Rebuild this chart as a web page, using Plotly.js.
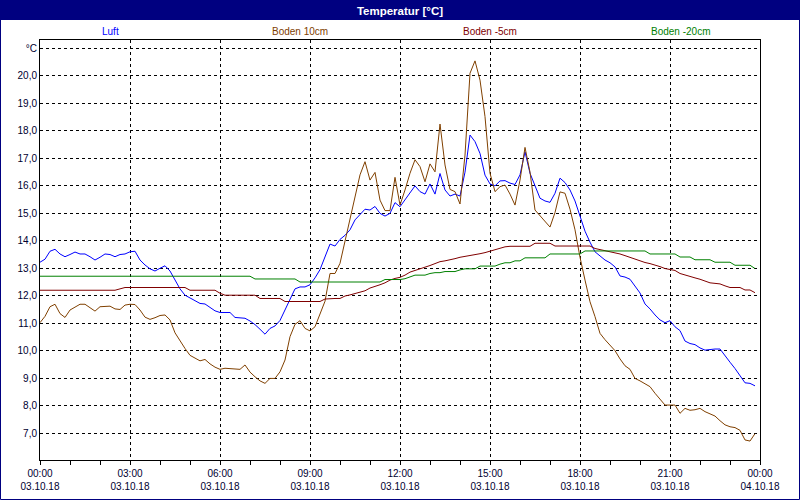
<!DOCTYPE html>
<html>
<head>
<meta charset="utf-8">
<script src="https://cdn.plot.ly/plotly-3.0.1.min.js"></script>
<style>
  html, body { margin: 0; padding: 0; background: #fff; }
  #chart { width: 800px; height: 500px; }
</style>
</head>
<body>
<div id="chart"></div>
<script>
// Messwerte 03.10.18, alle 10 Minuten (00:00 bis 23:50)
const seriesNames = ['Luft', 'Boden 10cm', 'Boden -5cm', 'Boden -20cm'];
const seriesColors = ['#0000ff', '#804000', '#800000', '#008000'];

const luft = [
  13.22,13.33,13.62,13.69,13.52,13.42,13.50,13.59,13.52,13.52,13.42,13.30,
  13.40,13.52,13.50,13.42,13.50,13.52,13.60,13.62,13.30,13.12,12.98,12.90,
  13.00,13.09,12.90,12.55,12.25,12.02,11.92,11.82,11.72,11.70,11.57,11.45,
  11.39,11.39,11.39,11.21,11.20,11.18,11.08,10.95,10.78,10.60,10.81,10.90,
  11.10,11.50,11.90,12.25,12.32,12.32,12.40,12.65,12.95,13.42,13.88,13.81,
  14.05,14.20,14.40,14.76,14.95,15.15,15.12,15.25,15.00,14.90,15.00,15.39,
  15.24,15.48,15.75,16.00,15.79,15.70,16.07,15.70,16.45,15.85,15.63,15.70,
  15.63,16.50,17.85,17.61,17.18,16.39,16.07,16.00,16.18,16.19,16.10,16.05,
  16.40,17.24,16.46,15.97,15.55,15.45,15.40,15.73,16.28,16.12,15.85,15.45,
  14.88,14.35,13.95,13.60,13.45,13.30,13.20,13.05,12.72,12.68,12.60,12.35,
  12.10,11.70,11.52,11.30,11.12,11.02,11.09,10.87,10.73,10.35,10.26,10.22,
  10.10,10.02,10.05,10.06,10.06,9.80,9.58,9.35,9.10,8.83,8.81,8.72
];

const boden10 = [
  11.02,11.25,11.60,11.69,11.35,11.21,11.48,11.60,11.69,11.69,11.58,11.44,
  11.60,11.62,11.62,11.52,11.50,11.66,11.69,11.68,11.48,11.22,11.14,11.20,
  11.28,11.30,11.12,10.65,10.35,10.08,9.83,9.72,9.63,9.68,9.52,9.40,
  9.32,9.36,9.34,9.32,9.32,9.48,9.22,9.05,8.90,8.81,8.99,8.99,
  9.23,9.66,10.51,10.96,11.09,10.81,10.72,10.87,11.30,11.80,12.81,12.81,
  13.18,13.97,14.80,15.65,16.40,16.88,16.21,16.49,15.48,15.10,15.10,16.31,
  15.30,15.85,16.46,16.95,16.70,16.15,16.80,16.51,18.25,16.76,15.87,15.79,
  15.34,17.12,20.10,20.55,19.85,18.52,16.46,15.79,15.97,16.03,15.70,15.30,
  16.21,17.40,16.50,15.12,14.90,14.70,14.50,15.03,15.78,15.73,15.15,14.40,
  13.40,12.57,11.78,11.24,10.63,10.40,10.20,10.00,9.70,9.45,9.32,8.99,
  8.90,8.80,8.69,8.45,8.22,8.02,8.02,8.02,7.72,7.90,7.83,7.85,
  7.90,7.78,7.70,7.62,7.45,7.30,7.23,7.20,7.10,6.75,6.71,6.98
];

const bodenMinus5 = [
  12.20,12.20,12.20,12.20,12.20,12.20,12.20,12.20,12.20,12.20,12.20,12.20,
  12.20,12.20,12.20,12.20,12.25,12.30,12.30,12.30,12.30,12.30,12.30,12.30,
  12.30,12.30,12.30,12.30,12.30,12.30,12.20,12.20,12.20,12.20,12.20,12.20,
  12.09,12.02,12.02,12.02,12.02,12.02,12.02,12.02,11.90,11.90,11.90,11.90,
  11.90,11.79,11.79,11.79,11.79,11.79,11.79,11.79,11.79,11.88,11.90,11.90,
  11.90,11.99,12.03,12.08,12.12,12.18,12.28,12.33,12.40,12.47,12.57,12.63,
  12.67,12.75,12.86,12.92,12.97,13.04,13.10,13.17,13.24,13.27,13.30,13.35,
  13.40,13.43,13.45,13.48,13.53,13.57,13.62,13.69,13.74,13.78,13.80,13.80,
  13.80,13.80,13.80,13.91,13.91,13.91,13.91,13.81,13.81,13.81,13.81,13.81,
  13.81,13.81,13.81,13.72,13.68,13.66,13.62,13.58,13.52,13.46,13.40,13.32,
  13.28,13.21,13.17,13.12,13.06,12.99,12.96,12.92,12.81,12.75,12.69,12.65,
  12.60,12.54,12.47,12.45,12.43,12.36,12.30,12.30,12.30,12.21,12.21,12.11
];

const bodenMinus20 = [
  12.71,12.71,12.71,12.71,12.71,12.71,12.71,12.71,12.71,12.71,12.71,12.71,
  12.71,12.71,12.71,12.71,12.71,12.71,12.71,12.71,12.71,12.71,12.71,12.71,
  12.71,12.71,12.71,12.71,12.71,12.71,12.71,12.71,12.71,12.71,12.71,12.71,
  12.71,12.71,12.71,12.71,12.71,12.71,12.71,12.61,12.61,12.61,12.61,12.61,
  12.61,12.61,12.61,12.61,12.50,12.50,12.50,12.50,12.50,12.50,12.50,12.50,
  12.50,12.50,12.50,12.50,12.50,12.50,12.50,12.50,12.50,12.59,12.59,12.59,
  12.59,12.62,12.69,12.75,12.75,12.75,12.81,12.84,12.84,12.88,12.88,12.88,
  12.94,12.98,12.98,12.98,13.08,13.08,13.08,13.08,13.15,13.20,13.20,13.27,
  13.27,13.38,13.38,13.38,13.38,13.38,13.52,13.52,13.52,13.52,13.52,13.52,
  13.52,13.63,13.63,13.63,13.63,13.63,13.63,13.63,13.63,13.63,13.63,13.63,
  13.63,13.63,13.52,13.52,13.52,13.52,13.52,13.52,13.41,13.41,13.41,13.31,
  13.31,13.31,13.31,13.22,13.22,13.22,13.22,13.11,13.11,13.11,13.11,12.99
];

const xTickHours = [0, 3, 6, 9, 12, 15, 18, 21, 24];
const xTickLabels = [
  '00:00<br>03.10.18', '03:00<br>03.10.18', '06:00<br>03.10.18',
  '09:00<br>03.10.18', '12:00<br>03.10.18', '15:00<br>03.10.18',
  '18:00<br>03.10.18', '21:00<br>03.10.18', '00:00<br>04.10.18'
];
const yTickValues = [7, 8, 9, 10, 11, 12, 13, 14, 15, 16, 17, 18, 19, 20, 21];
const yTickLabels = ['7,0', '8,0', '9,0', '10,0', '11,0', '12,0', '13,0', '14,0',
  '15,0', '16,0', '17,0', '18,0', '19,0', '20,0', '°C'];

// Zeitachse in Stunden (10-Minuten-Raster)
const stunden = luft.map((_, i) => i / 6);

const allValues = [luft, boden10, bodenMinus5, bodenMinus20];
const traces = allValues.map((vals, k) => ({
  x: stunden,
  y: vals,
  type: 'scatter',
  mode: 'lines',
  name: seriesNames[k],
  line: { color: seriesColors[k], width: 1 },
  showlegend: false
}));

const fontFam = 'Liberation Sans, Arial, sans-serif';
const navy = '#000080';

// Beschriftung der Reihen oben (statt Legende)
const legendXs = [110, 300, 490, 680];
const annotations = seriesNames.map((name, k) => ({
  xref: 'paper', yref: 'paper',
  x: (legendXs[k] - 40) / 720,
  y: (460 - 31) / 420,
  text: name,
  showarrow: false,
  font: { family: fontFam, size: 10, color: seriesColors[k] },
  xanchor: 'center', yanchor: 'middle'
}));

const shapes = [
  // Titelbalken
  {
    type: 'rect', xref: 'paper', yref: 'paper', layer: 'below',
    x0: -40 / 720, x1: 1 + 40 / 720,
    y0: (460 - 20) / 420, y1: 460 / 420,
    fillcolor: navy, line: { width: 0 }
  },
  // Rahmen um das ganze Bild
  {
    type: 'rect', xref: 'paper', yref: 'paper',
    x0: -39.5 / 720, x1: 1 + 39.5 / 720,
    y0: (460 - 499.5) / 420, y1: 460 / 420,
    fillcolor: 'rgba(0,0,0,0)', line: { color: navy, width: 1 }
  }
];

const layout = {
  width: 800,
  height: 500,
  margin: { l: 40, r: 40, t: 40, b: 40 },
  paper_bgcolor: '#ffffff',
  plot_bgcolor: '#ffffff',
  separators: ',.',
  font: { family: fontFam, size: 10, color: '#000020' },
  title: {
    text: 'Temperatur [°C]',
    x: 0.5, xanchor: 'center',
    y: 1 - 11 / 500, yanchor: 'middle',
    yref: 'container',
    font: { family: fontFam, size: 11.5, color: '#ffffff', weight: 'bold' }
  },
  xaxis: {
    range: [0, 24],
    tickmode: 'array',
    tickvals: xTickHours,
    ticktext: xTickLabels,
    ticks: 'outside', ticklen: 4, tickcolor: '#000',
    minor: { tickmode: 'linear', tick0: 0, dtick: 1, ticks: 'outside', ticklen: 4, tickcolor: '#000', showgrid: false },
    showgrid: true, gridcolor: '#000', gridwidth: 1, griddash: '3px,3px',
    showline: true, linecolor: '#000', linewidth: 1, mirror: true,
    zeroline: false,
    tickfont: { family: fontFam, size: 10, color: '#000030' }
  },
  yaxis: {
    range: [6.02, 21.31],
    tickmode: 'array',
    tickvals: yTickValues,
    ticktext: yTickLabels,
    ticks: '',
    showgrid: true, gridcolor: '#000', gridwidth: 1, griddash: '3px,3px',
    showline: true, linecolor: '#000', linewidth: 1, mirror: true,
    zeroline: false,
    tickfont: { family: fontFam, size: 10, color: '#000030' }
  },
  annotations: annotations,
  shapes: shapes
};

Plotly.newPlot('chart', traces, layout, { staticPlot: true, displayModeBar: false });
</script>
</body>
</html>
